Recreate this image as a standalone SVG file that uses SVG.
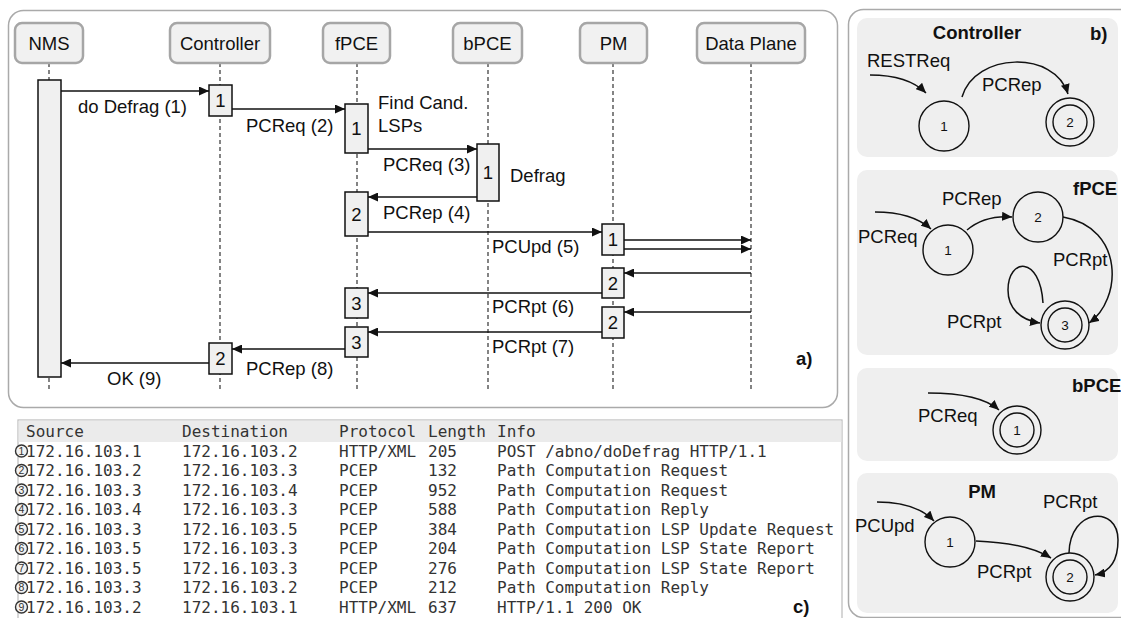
<svg xmlns="http://www.w3.org/2000/svg" width="1121" height="618" viewBox="0 0 1121 618">
<style>
.panel{fill:#fff;stroke:#aaa;stroke-width:1.5}
.actor rect{fill:#f1f1f1;stroke:#a6a6a6;stroke-width:2.5}
.t{font-family:"Liberation Sans",Arial,sans-serif;font-size:18.5px;fill:#111}
.tc{text-anchor:middle}
.b{font-weight:bold}
.life{stroke:#333;stroke-width:1.2;stroke-dasharray:4 3;fill:none}
.act rect{fill:#f0f0f0;stroke:#111;stroke-width:1.5}
.msg{stroke:#111;stroke-width:1.6;fill:none;marker-end:url(#ah)}
.mono{font-family:"DejaVu Sans Mono","Liberation Mono",monospace;font-size:16px;fill:#333}
.cc{fill:#f2f2f2;stroke:#333;stroke-width:1.4}
.cd{font-family:"Liberation Sans",Arial,sans-serif;font-size:10.5px;fill:#333;text-anchor:middle}
.sub{fill:#efefef}
.st{fill:none;stroke:#111;stroke-width:1.4}
.sn{font-family:"Liberation Sans",Arial,sans-serif;font-size:13.5px;fill:#111;text-anchor:middle}
.fe{stroke:#111;stroke-width:1.5;fill:none;marker-end:url(#ah)}
</style>
<defs>
<marker id="ah" markerUnits="userSpaceOnUse" markerWidth="11" markerHeight="9" refX="10" refY="4.5" orient="auto">
<path d="M0,0 L10,4.5 L0,9 z" fill="#111"/>
</marker>
</defs>
<rect width="1121" height="618" fill="#fff"/>
<!-- panel a -->
<rect class="panel" x="8.5" y="10.5" width="829" height="397" rx="15"/>
<g id="lifelines">
<path class="life" d="M49,63V392M220,63V392M357,63V392M488,63V392M613,63V392M751,63V392"/>
</g>
<g id="actor-nms" class="actor"><rect x="15" y="23" width="68" height="40" rx="7"/><text class="t tc" x="49" y="50">NMS</text></g>
<g id="actor-controller" class="actor"><rect x="170" y="23" width="100" height="40" rx="7"/><text class="t tc" x="220" y="50">Controller</text></g>
<g id="actor-fpce" class="actor"><rect x="323" y="23" width="67" height="40" rx="7"/><text class="t tc" x="356.5" y="50">fPCE</text></g>
<g id="actor-bpce" class="actor"><rect x="453" y="23" width="69" height="40" rx="7"/><text class="t tc" x="487.5" y="50">bPCE</text></g>
<g id="actor-pm" class="actor"><rect x="580" y="23" width="67" height="40" rx="7"/><text class="t tc" x="613.5" y="50">PM</text></g>
<g id="actor-dataplane" class="actor"><rect x="697" y="23" width="108" height="40" rx="7"/><text class="t tc" x="751" y="50">Data Plane</text></g>
<g id="activations" class="act">
<rect x="38" y="80" width="23" height="297"/>
<rect x="209" y="85" width="23" height="31"/><text class="t tc" x="220.5" y="107">1</text>
<rect x="345" y="104" width="23" height="49"/><text class="t tc" x="356.5" y="135">1</text>
<rect x="477" y="144" width="22" height="57"/><text class="t tc" x="488" y="179">1</text>
<rect x="345" y="192" width="23" height="44"/><text class="t tc" x="356.5" y="221">2</text>
<rect x="602" y="224" width="22" height="31"/><text class="t tc" x="613" y="246">1</text>
<rect x="602" y="268" width="22" height="30"/><text class="t tc" x="613" y="290">2</text>
<rect x="345" y="288" width="23" height="30"/><text class="t tc" x="356.5" y="310">3</text>
<rect x="602" y="307" width="22" height="31"/><text class="t tc" x="613" y="329">2</text>
<rect x="345" y="327" width="23" height="30"/><text class="t tc" x="356.5" y="349">3</text>
<rect x="209" y="343" width="23" height="31"/><text class="t tc" x="220.5" y="365">2</text>
</g>
<g id="messages">
<path class="msg" d="M61,91H209"/>
<path class="msg" d="M232,109H345"/>
<path class="msg" d="M368,149H477"/>
<path class="msg" d="M477,197H368"/>
<path class="msg" d="M368,232H602"/>
<path class="msg" d="M624,240H751"/>
<path class="msg" d="M624,249H751"/>
<path class="msg" d="M751,273H624"/>
<path class="msg" d="M602,293H368"/>
<path class="msg" d="M751,312H624"/>
<path class="msg" d="M602,332H368"/>
<path class="msg" d="M345,349H232"/>
<path class="msg" d="M209,363H61"/>
</g>
<g id="message-labels">
<text class="t" x="78" y="113">do Defrag (1)</text>
<text class="t" x="246" y="132">PCReq (2)</text>
<text class="t" x="378" y="109">Find Cand.</text>
<text class="t" x="378" y="132">LSPs</text>
<text class="t" x="383" y="171">PCReq (3)</text>
<text class="t" x="510" y="182">Defrag</text>
<text class="t" x="383" y="219">PCRep (4)</text>
<text class="t" x="492" y="253">PCUpd (5)</text>
<text class="t" x="492" y="313">PCRpt (6)</text>
<text class="t" x="492" y="353">PCRpt (7)</text>
<text class="t" x="246" y="375">PCRep (8)</text>
<text class="t" x="107" y="385">OK (9)</text>
<text class="t b" x="796" y="365" font-size="19">a)</text>
</g>
<!-- table c -->
<g id="table">
<rect x="18" y="420" width="824" height="205" fill="#fff" stroke="#bbb" stroke-width="1.2"/>
<rect x="18.6" y="420.6" width="822.8" height="21.4" fill="#ebebeb"/>
<g class="mono">
<text x="26" y="437">Source</text><text x="182" y="437">Destination</text><text x="339" y="437">Protocol</text><text x="428" y="437">Length</text><text x="497" y="437">Info</text>
<text x="26" y="456.5">172.16.103.1</text><text x="182" y="456.5">172.16.103.2</text><text x="339" y="456.5">HTTP/XML</text><text x="428" y="456.5">205</text><text x="497" y="456.5">POST /abno/doDefrag HTTP/1.1</text>
<text x="26" y="476">172.16.103.2</text><text x="182" y="476">172.16.103.3</text><text x="339" y="476">PCEP</text><text x="428" y="476">132</text><text x="497" y="476">Path Computation Request</text>
<text x="26" y="495.5">172.16.103.3</text><text x="182" y="495.5">172.16.103.4</text><text x="339" y="495.5">PCEP</text><text x="428" y="495.5">952</text><text x="497" y="495.5">Path Computation Request</text>
<text x="26" y="515">172.16.103.4</text><text x="182" y="515">172.16.103.3</text><text x="339" y="515">PCEP</text><text x="428" y="515">588</text><text x="497" y="515">Path Computation Reply</text>
<text x="26" y="534.5">172.16.103.3</text><text x="182" y="534.5">172.16.103.5</text><text x="339" y="534.5">PCEP</text><text x="428" y="534.5">384</text><text x="497" y="534.5">Path Computation LSP Update Request</text>
<text x="26" y="554">172.16.103.5</text><text x="182" y="554">172.16.103.3</text><text x="339" y="554">PCEP</text><text x="428" y="554">204</text><text x="497" y="554">Path Computation LSP State Report</text>
<text x="26" y="573.5">172.16.103.5</text><text x="182" y="573.5">172.16.103.3</text><text x="339" y="573.5">PCEP</text><text x="428" y="573.5">276</text><text x="497" y="573.5">Path Computation LSP State Report</text>
<text x="26" y="593">172.16.103.3</text><text x="182" y="593">172.16.103.2</text><text x="339" y="593">PCEP</text><text x="428" y="593">212</text><text x="497" y="593">Path Computation Reply</text>
<text x="26" y="612.5">172.16.103.2</text><text x="182" y="612.5">172.16.103.1</text><text x="339" y="612.5">HTTP/XML</text><text x="428" y="612.5">637</text><text x="497" y="612.5">HTTP/1.1 200 OK</text>
</g>
<g id="row-markers">
<circle class="cc" cx="21.5" cy="451" r="6"/><text class="cd" x="21.5" y="454.8">1</text>
<circle class="cc" cx="21.5" cy="470.5" r="6"/><text class="cd" x="21.5" y="474.3">2</text>
<circle class="cc" cx="21.5" cy="490" r="6"/><text class="cd" x="21.5" y="493.8">3</text>
<circle class="cc" cx="21.5" cy="509.5" r="6"/><text class="cd" x="21.5" y="513.3">4</text>
<circle class="cc" cx="21.5" cy="529" r="6"/><text class="cd" x="21.5" y="532.8">5</text>
<circle class="cc" cx="21.5" cy="548.5" r="6"/><text class="cd" x="21.5" y="552.3">6</text>
<circle class="cc" cx="21.5" cy="568" r="6"/><text class="cd" x="21.5" y="571.8">7</text>
<circle class="cc" cx="21.5" cy="587.5" r="6"/><text class="cd" x="21.5" y="591.3">8</text>
<circle class="cc" cx="21.5" cy="607" r="6"/><text class="cd" x="21.5" y="610.8">9</text>
</g>
<text class="t b" x="793" y="613" font-size="19">c)</text>
</g>
<!-- panel b -->
<rect class="panel" x="848.5" y="9.5" width="290" height="608" rx="15"/>
<g id="fsm-controller">
<rect class="sub" x="857" y="18" width="261" height="139" rx="10"/>
<text class="t b tc" x="977" y="39" font-size="16.5">Controller</text>
<text class="t b" x="1090" y="40" font-size="19">b)</text>
<text class="t" x="867" y="67">RESTReq</text>
<text class="t" x="982" y="91">PCRep</text>
<circle class="st" cx="944" cy="126" r="25"/><text class="sn" x="944" y="131">1</text>
<circle class="st" cx="1070" cy="122" r="24"/><circle class="st" cx="1070" cy="122" r="17"/><text class="sn" x="1070" y="127">2</text>
<path class="fe" d="M870,75 Q908,75 926,93"/>
<path class="fe" d="M962,97 C975,52 1055,50 1068,94"/>
</g>
<g id="fsm-fpce">
<rect class="sub" x="857" y="170" width="261" height="185" rx="10"/>
<text class="t b" x="1073" y="195" font-size="16.5">fPCE</text>
<text class="t" x="942" y="205">PCRep</text>
<text class="t" x="858" y="243">PCReq</text>
<text class="t" x="1053" y="266">PCRpt</text>
<text class="t" x="947" y="328">PCRpt</text>
<circle class="st" cx="948" cy="250" r="25"/><text class="sn" x="948" y="255">1</text>
<circle class="st" cx="1038" cy="217" r="25"/><text class="sn" x="1038" y="222">2</text>
<circle class="st" cx="1065" cy="325" r="24"/><circle class="st" cx="1065" cy="325" r="17"/><text class="sn" x="1065" y="330">3</text>
<path class="fe" d="M875,212 Q912,212 931,229"/>
<path class="fe" d="M967,230 Q985,215 1012,217"/>
<path class="fe" d="M1063,217 C1125,228 1122,300 1089,323"/>
<path class="fe" d="M1043,303 C1040,255 1008,258 1008,290 C1008,308 1020,320 1040,323"/>
</g>
<g id="fsm-bpce">
<rect class="sub" x="857" y="368" width="261" height="93" rx="10"/>
<text class="t b" x="1072" y="392" font-size="16.5">bPCE</text>
<text class="t" x="918" y="422">PCReq</text>
<circle class="st" cx="1017" cy="430" r="24"/><circle class="st" cx="1017" cy="430" r="17"/><text class="sn" x="1017" y="435">1</text>
<path class="fe" d="M928,393 Q980,393 999,410"/>
</g>
<g id="fsm-pm">
<rect class="sub" x="857" y="473" width="261" height="140" rx="10"/>
<text class="t b tc" x="982" y="498" font-size="16.5">PM</text>
<text class="t" x="1043" y="508">PCRpt</text>
<text class="t" x="855" y="532">PCUpd</text>
<text class="t" x="977" y="578">PCRpt</text>
<circle class="st" cx="950" cy="542" r="25"/><text class="sn" x="950" y="547">1</text>
<circle class="st" cx="1070" cy="577" r="24"/><circle class="st" cx="1070" cy="577" r="17"/><text class="sn" x="1070" y="582">2</text>
<path class="fe" d="M877,502 Q916,502 934,521"/>
<path class="fe" d="M976,541 Q1027,543 1051,558"/>
<path class="fe" d="M1069,553 C1070,508 1118,505 1118,540 C1118,560 1110,572 1095,575"/>
</g>
</svg>
